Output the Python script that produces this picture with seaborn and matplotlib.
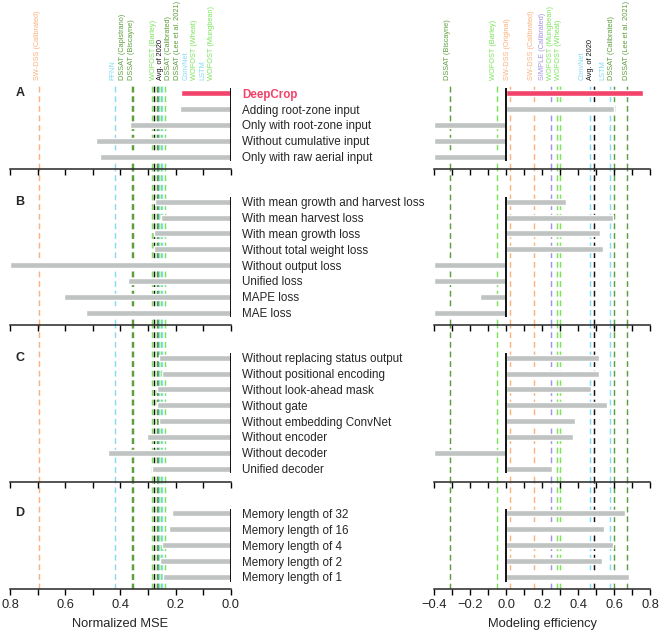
import numpy as np
import pandas as pd
import matplotlib
matplotlib.use("Agg")
import matplotlib.pyplot as plt
import seaborn as sns
from matplotlib.transforms import blended_transform_factory
from matplotlib.ticker import MultipleLocator

# ---------------- data ----------------
labels_A = ["DeepCrop", "Adding root-zone input", "Only with root-zone input",
            "Without cumulative input", "Only with raw aerial input"]
mse_A = [0.181, 0.184, 0.364, 0.490, 0.474]
me_A = [0.761, 0.602, -0.40, -0.40, -0.40]

labels_B = ["With mean growth and harvest loss", "With mean harvest loss",
            "With mean growth loss", "Without total weight loss",
            "Without output loss", "Unified loss", "MAPE loss", "MAE loss"]
mse_B = [0.274, 0.252, 0.279, 0.279, 0.800, 0.373, 0.605, 0.525]
me_B = [0.330, 0.596, 0.520, 0.537, -0.40, -0.40, -0.143, -0.40]

labels_C = ["Without replacing status output", "Without positional encoding",
            "Without look-ahead mask", "Without gate", "Without embedding ConvNet",
            "Without encoder", "Without decoder", "Unified decoder"]
mse_C = [0.260, 0.249, 0.269, 0.267, 0.260, 0.304, 0.446, 0.286]
me_C = [0.517, 0.517, 0.474, 0.559, 0.380, 0.370, -0.40, 0.257]

labels_D = ["Memory length of 32", "Memory length of 16", "Memory length of 4",
            "Memory length of 2", "Memory length of 1"]
mse_D = [0.215, 0.223, 0.251, 0.256, 0.247]
me_D = [0.663, 0.544, 0.596, 0.533, 0.681]

section_letters = ["A", "B", "C", "D"]

mse_base_names = ["SW-DSS (Calibrated)", "FFNN", "DSSAT (Capistrano)", "DSSAT (Biscayne)",
                  "WOFOST (Barley)", "Avg. of 2020", "DSSAT (Calibrated)",
                  "DSSAT (Lee et al. 2021)", "ConvNet", "WOFOST (Wheat)", "LSTM",
                  "WOFOST (Mungbean)"]
mse_base_vals = [0.695, 0.420, 0.359, 0.353, 0.287, 0.279, 0.269, 0.264, 0.259,
                 0.254, 0.248, 0.240]

me_base_names = ["DSSAT (Biscayne)", "WOFOST (Barley)", "SW-DSS (Original)",
                 "SW-DSS (Calibrated)", "SIMPLE (Calibrated)", "WOFOST (Mungbean)",
                 "WOFOST (Wheat)", "ConvNet", "Avg. of 2020", "LSTM",
                 "DSSAT (Calibrated)", "DSSAT (Lee et al. 2021)"]
me_base_vals = [-0.315, -0.050, 0.020, 0.153, 0.252, 0.283, 0.300, 0.466, 0.487,
                0.580, 0.600, 0.672]

# ---------------- layout / style ----------------
mse_label_x = [0.699, 0.426, 0.392, 0.3595, 0.281, 0.2545, 0.227, 0.1944, 0.163,
               0.133, 0.1024, 0.070]
me_label_x = [-0.324, -0.069, 0.0056, 0.139, 0.200, 0.246, 0.292, 0.422, 0.468,
              0.540, 0.588, 0.672]

RED = "#F2436A"
GRAY = "#BFC3C1"
fam_colors = {"SW-DSS": "#FBB27E", "FFNN": "#86DCF2", "ConvNet": "#86DCF2",
              "LSTM": "#86DCF2", "DSSAT": "#5E9E3C", "WOFOST": "#7BE45A",
              "SIMPLE": "#A394E6", "Avg.": "#111111"}


def base_color(name):
    for k, c in fam_colors.items():
        if name.startswith(k):
            return c
    return "black"


sns.set_style("ticks")
plt.rcParams["font.family"] = ["Liberation Sans", "DejaVu Sans"]

W, H = 660, 631
fig = plt.figure(figsize=(W / 100, H / 100), dpi=100)

bounds = [85, 168.7, 324.7, 482, 589]
top_pad = [0.52, 2.08, 2.08, 1.98]
bot_pad = [0.76, 0.76, 0.84, 0.76]
sections = [(labels_A, mse_A, me_A), (labels_B, mse_B, me_B),
            (labels_C, mse_C, me_C), (labels_D, mse_D, me_D)]

left_x0, left_x1 = 10, 231
right_x0, right_x1 = 434.3, 650

label_y_fig = 1 - 80 / H

for si, (labs, mse, me) in enumerate(sections):
    y0, y1 = bounds[si], bounds[si + 1]
    n = len(labs)
    for side in ("L", "R"):
        if side == "L":
            rect = [left_x0 / W, 1 - y1 / H, (left_x1 - left_x0) / W, (y1 - y0) / H]
            vals = mse
        else:
            rect = [right_x0 / W, 1 - y1 / H, (right_x1 - right_x0) / W, (y1 - y0) / H]
            vals = me
        ax = fig.add_axes(rect)
        ax.set_facecolor("none")
        ax.set_zorder(10 - si)
        df = pd.DataFrame({"label": labs, "value": vals})
        pal = {l: (RED if l == "DeepCrop" else GRAY) for l in labs}
        sns.barplot(data=df, x="value", y="label", hue="label", palette=pal,
                    order=labs, hue_order=labs, width=0.38, saturation=1,
                    legend=False, ax=ax, zorder=3)
        # baselines
        names = mse_base_names if side == "L" else me_base_names
        bvals = mse_base_vals if side == "L" else me_base_vals
        for nm, v in zip(names, bvals):
            ax.axvline(v, color=base_color(nm), lw=1.05, ls=(0, (4, 2.6)), zorder=1)
        # zero line limited to bars
        ax.vlines(0, -0.3, n - 1 + 0.3, color="black", lw=1.3, zorder=4)

        if side == "L":
            ax.set_xlim(0.8, 0.0)
        else:
            ax.set_xlim(-0.4, 0.8)
        ax.set_ylim(n - 1 + bot_pad[si], -top_pad[si])
        ax.xaxis.set_major_locator(MultipleLocator(0.2))
        ax.xaxis.set_minor_locator(MultipleLocator(0.1))
        ax.tick_params(axis="x", which="both", direction="out", length=4,
                       width=1, color="black", labelsize=9.3, pad=3.5)
        for s in ("top", "left", "right"):
            ax.spines[s].set_visible(False)
        ax.spines["bottom"].set_linewidth(1.1)
        ax.set_ylabel("")
        ax.set_xlabel("")
        if si < 3:
            ax.tick_params(axis="x", which="both", labelbottom=False)
        else:
            ax.set_xlabel("Normalized MSE" if side == "L" else "Modeling efficiency",
                          fontsize=9.3, labelpad=4.5)

        if side == "L":
            ax.yaxis.tick_right()
            ax.tick_params(axis="y", length=0, pad=8, labelsize=8.4)
            for t in ax.get_yticklabels():
                if t.get_text() == "DeepCrop":
                    t.set_color(RED)
                    t.set_fontweight("bold")
            ax.text(20 / W, 0, section_letters[si],
                    transform=blended_transform_factory(fig.transFigure, ax.transData),
                    ha="center", va="center", fontsize=9, fontweight="bold")
        else:
            ax.set_yticks([])

        if si == 0:
            tr = blended_transform_factory(ax.transData, fig.transFigure)
            lx = mse_label_x if side == "L" else me_label_x
            for nm, x in zip(names, lx):
                ax.text(x, label_y_fig, nm, transform=tr, rotation=90,
                        ha="center", va="bottom", fontsize=5.3,
                        color=base_color(nm))

fig.savefig("out.png", dpi=100)
